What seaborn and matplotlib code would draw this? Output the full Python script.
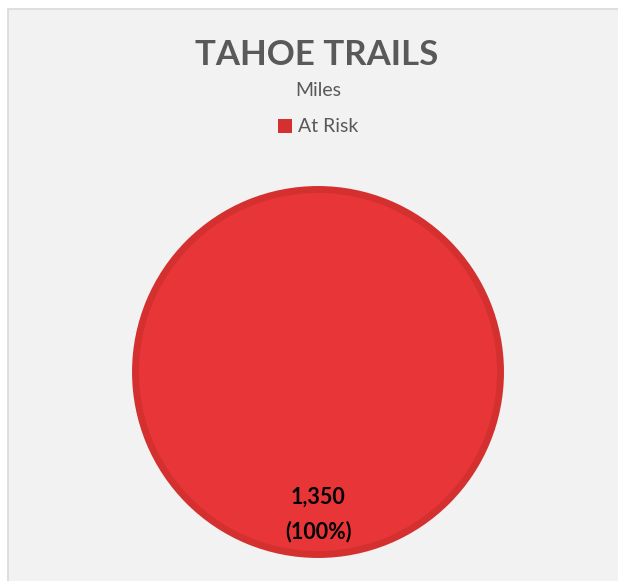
import matplotlib
matplotlib.use("Agg")
import matplotlib.pyplot as plt
import seaborn as sns
from matplotlib.patches import Rectangle, Patch

categories = ["At Risk"]
miles = [1350]
colors = ["#e83537"]
edge_colors = ["#d4302f"]

sns.set_theme(style="white")
plt.rcParams["font.family"] = ["Lato", "DejaVu Sans"]

fig = plt.figure(figsize=(6.18, 5.81), dpi=100)
fig.patch.set_facecolor("white")
fig.patches.append(Rectangle((7.5 / 618, -0.01), 1.02, (581 - 8.5) / 581 + 0.01,
                             transform=fig.transFigure, facecolor="#f2f2f2",
                             edgecolor="#d9d9d9", linewidth=1.2, zorder=-1))

ax = fig.add_axes([(318 - 186) / 618, (581 - 372 - 186) / 581, 372 / 618, 372 / 581])
ax.set_facecolor("none")
total = sum(miles)


def fmt(pct):
    return f"{pct * total / 100:,.0f}\n({pct:.0f}%)"


wedges, texts, autotexts = ax.pie(
    miles, colors=colors, startangle=90, radius=182.5 / 186,
    autopct=fmt, pctdistance=0.78,
    wedgeprops=dict(edgecolor=edge_colors[0], linewidth=5),
    textprops=dict(color="black", fontsize=15.5, fontweight="bold", linespacing=1.7),
)
ax.set_xlim(-1, 1)
ax.set_ylim(-1, 1)
ax.axis("off")

fig.text(0.513, 1 - 55 / 581, "TAHOE TRAILS", ha="center", va="center",
         fontsize=25, fontweight="bold", color="#595959")
fig.text(0.515, 1 - 91 / 581, "Miles", ha="center", va="center",
         fontsize=14, color="#595959")
handles = [Patch(facecolor=edge_colors[0], edgecolor="none")]
fig.legend(handles, categories, loc="center", bbox_to_anchor=(0.515, 1 - 127 / 581),
           frameon=False, fontsize=14, handlelength=0.75, handleheight=0.75,
           handletextpad=0.3, labelcolor="#595959")

fig.savefig("out.png", dpi=100)
